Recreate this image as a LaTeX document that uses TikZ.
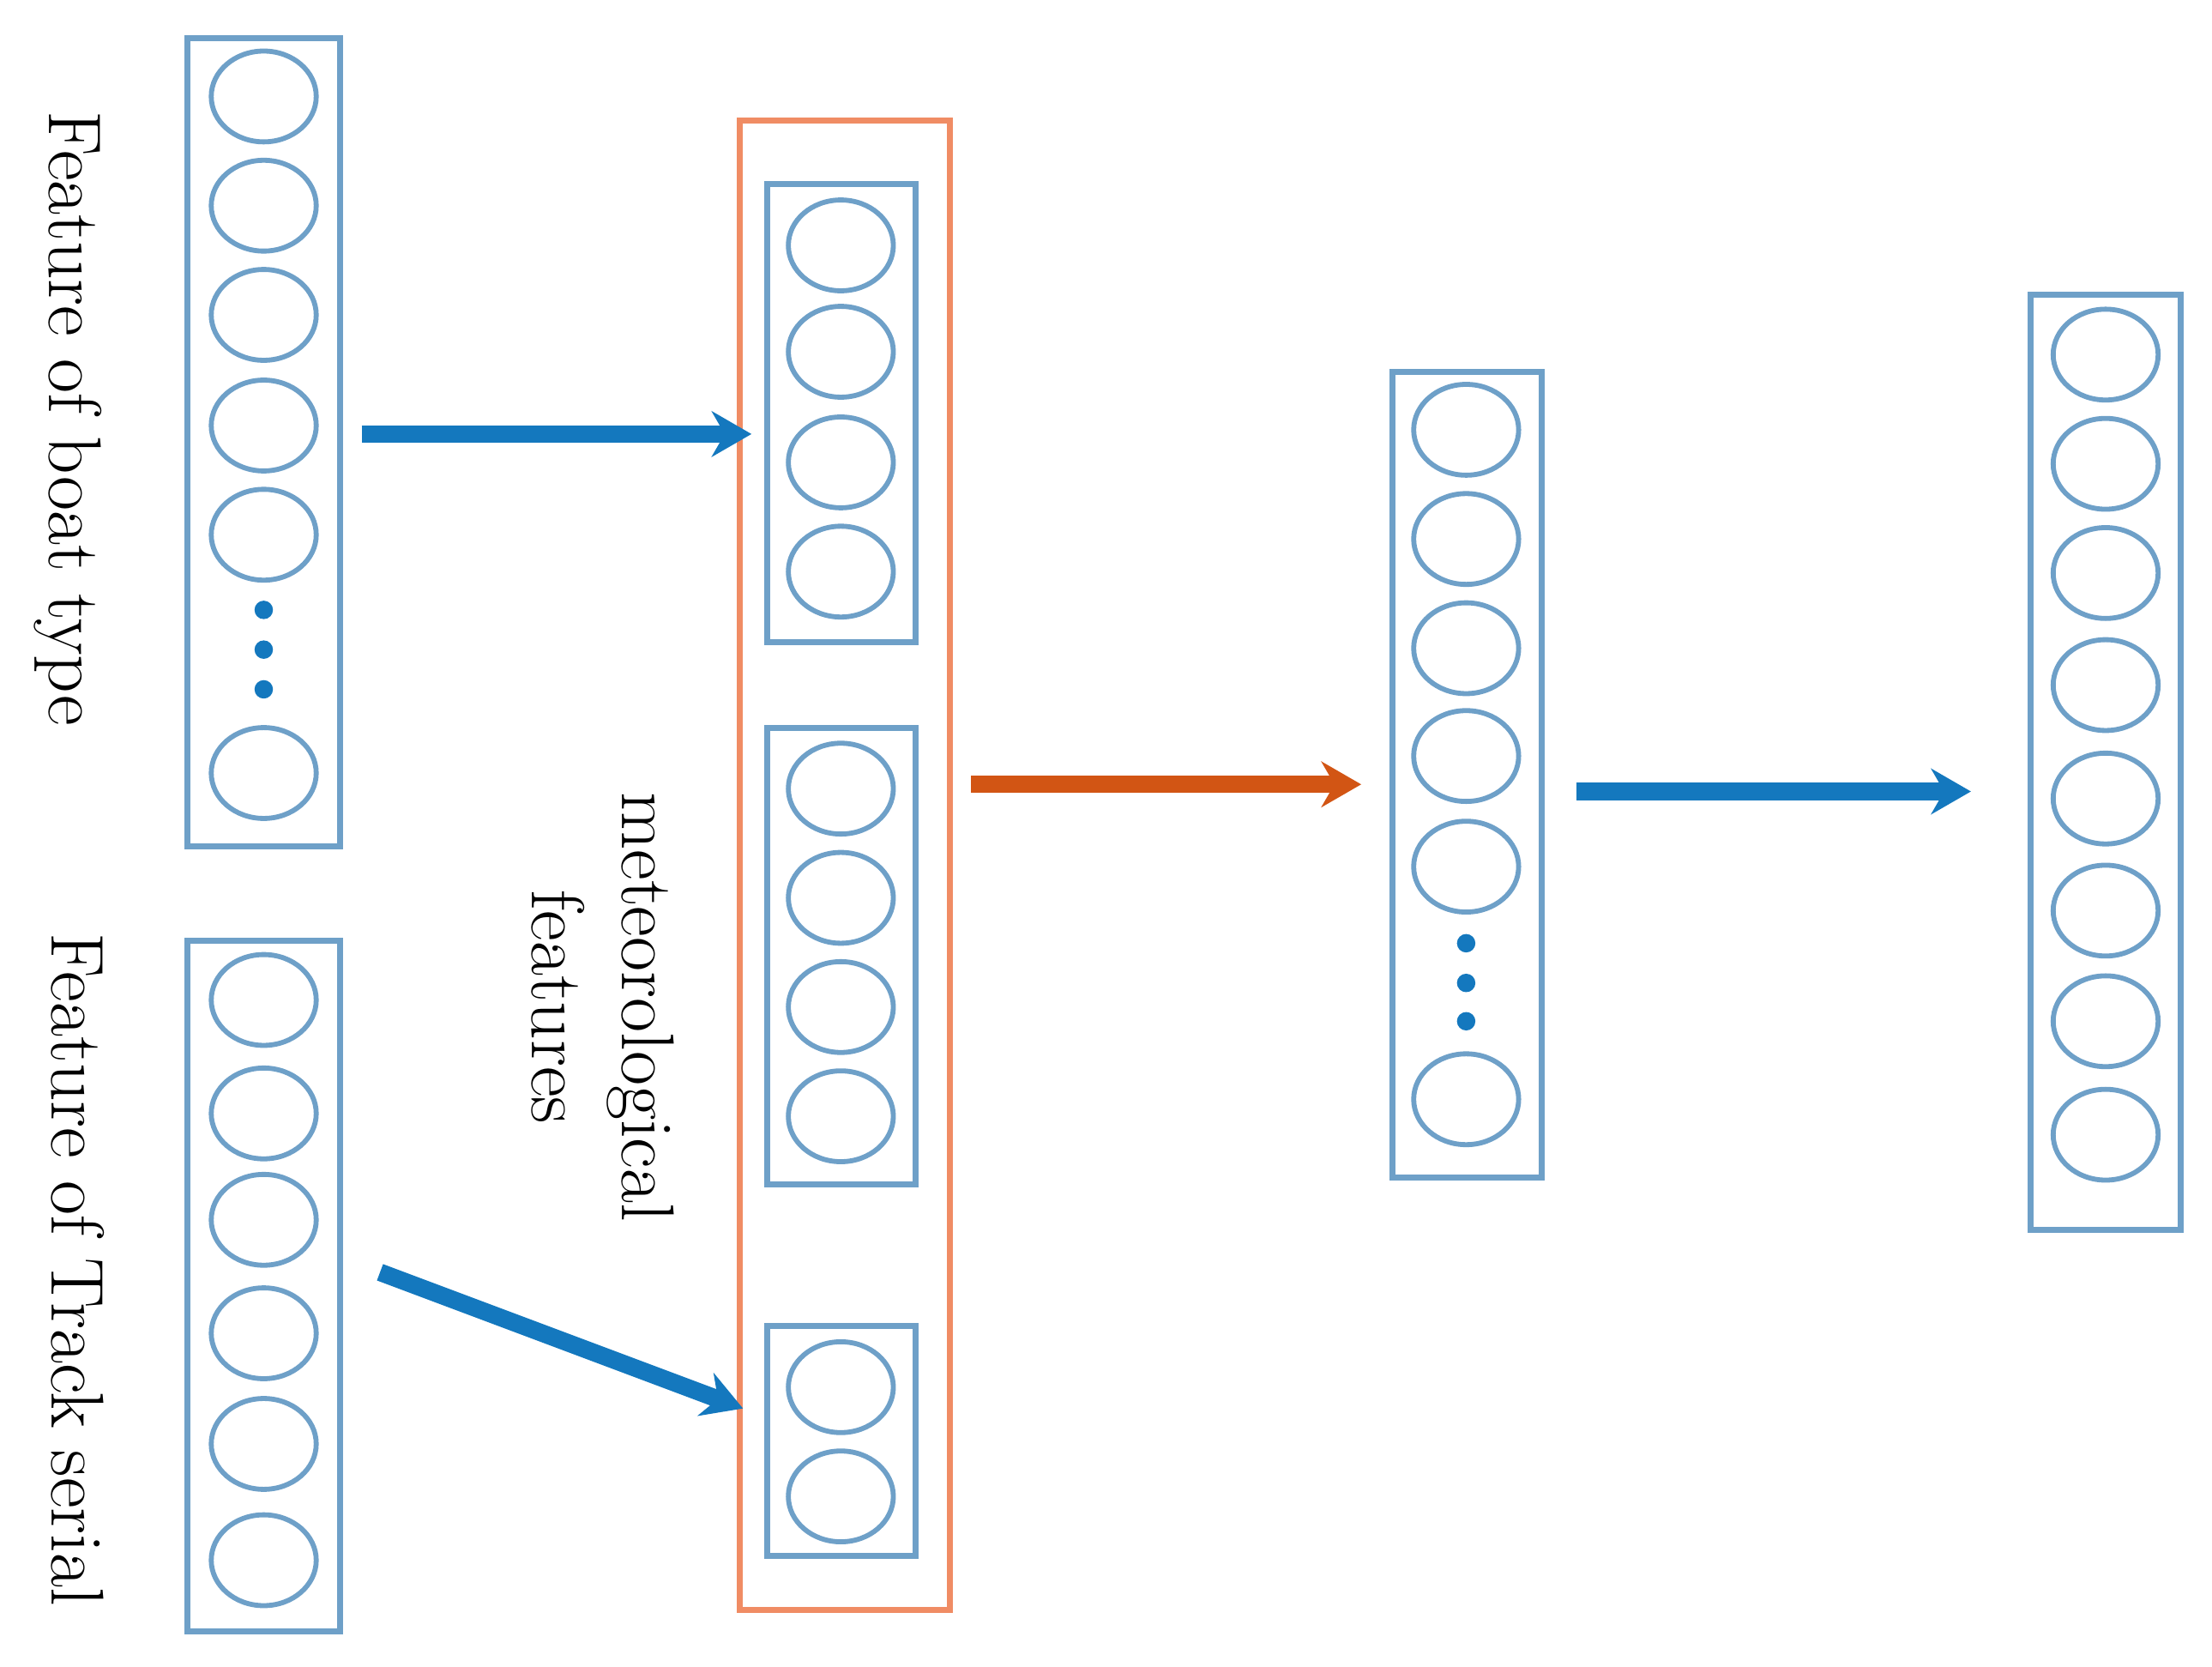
\documentclass[tikz,border=0pt]{standalone}
\usepackage{tikz}
\usetikzlibrary{arrows.meta, shapes.geometric}
\definecolor{boxblue}{RGB}{110,160,200}
\definecolor{arrblue}{RGB}{20,120,190}
\definecolor{boxorange}{RGB}{240,140,100}
\definecolor{arrorange}{RGB}{210,85,20}
\begin{document}
\begin{tikzpicture}[x=0.01cm,y=-0.01cm]
\tikzstyle{layer} = [draw=boxblue, line width=1.2pt]
\tikzstyle{unit} = [draw=boxblue, line width=1pt, ellipse, minimum width=0.74cm, minimum height=0.64cm, inner sep=0pt]
\tikzstyle{dot} = [fill=arrblue, circle, minimum size=0.13cm, inner sep=0pt]
\tikzstyle{line} = [draw=arrblue, line width=3.5pt, -{Stealth[length=0.28cm,width=0.32cm]}]
\tikzstyle{label} = [rotate=-90, font=\fontsize{15}{18}\selectfont, align=center]
\useasboundingbox (0,0) rectangle (1560,1175);

 % input boat type
 \draw [layer] (132,27) rectangle (240,597);
 \foreach \y [count=\i] in {68,145,222,300,377,545} \node [unit] (boat\i) at (186,\y) {};
 \foreach \y in {430,458,486} \node [dot] at (186,\y) {};
 \node [label] (boatlab) at (48,295) {Feature of boat type};

 % input track serial
 \draw [layer] (132,663) rectangle (240,1150);
 \foreach \y [count=\i] in {705,785,860,940,1018,1100} \node [unit] (track\i) at (186,\y) {};
 \node [label] (tracklab) at (55,895) {Feature of Track serial};

 % concatenation
 \draw [draw=boxorange, line width=1.2pt] (522,85) rectangle (670,1135);
 \draw [layer] (541,130) rectangle (646,453);
 \draw [layer] (541,513) rectangle (646,835);
 \draw [layer] (541,935) rectangle (646,1097);
 \foreach \y [count=\i] in {173,248,326,403} \node [unit] (cata\i) at (593,\y) {};
 \foreach \y [count=\i] in {556,633,710,787} \node [unit] (catb\i) at (593,\y) {};
 \foreach \y [count=\i] in {978,1055} \node [unit] (catc\i) at (593,\y) {};
 \node [label] (meteolab) at (425,710) {meteorological\\features};

 % hidden
 \draw [layer] (982,262) rectangle (1087,830);
 \foreach \y [count=\i] in {303,380,457,533,611,775} \node [unit] (hid\i) at (1034,\y) {};
 \foreach \y in {665,693,720} \node [dot] at (1034,\y) {};

 % output
 \draw [layer] (1432,208) rectangle (1538,867);
 \foreach \y [count=\i] in {250,327,404,483,563,642,720,800} \node [unit] (out\i) at (1485,\y) {};

 \coordinate (a1) at (255,306); \coordinate (b1) at (530,306);
 \coordinate (a2) at (268,897); \coordinate (b2) at (524,993);
 \coordinate (a3) at (685,553); \coordinate (b3) at (960,553);
 \coordinate (a4) at (1112,558); \coordinate (b4) at (1390,558);
 \path [line] (a1) -- (b1);
 \path [line] (a2) -- (b2);
 \path [line, draw=arrorange] (a3) -- (b3);
 \path [line] (a4) -- (b4);
\end{tikzpicture}
\end{document}
